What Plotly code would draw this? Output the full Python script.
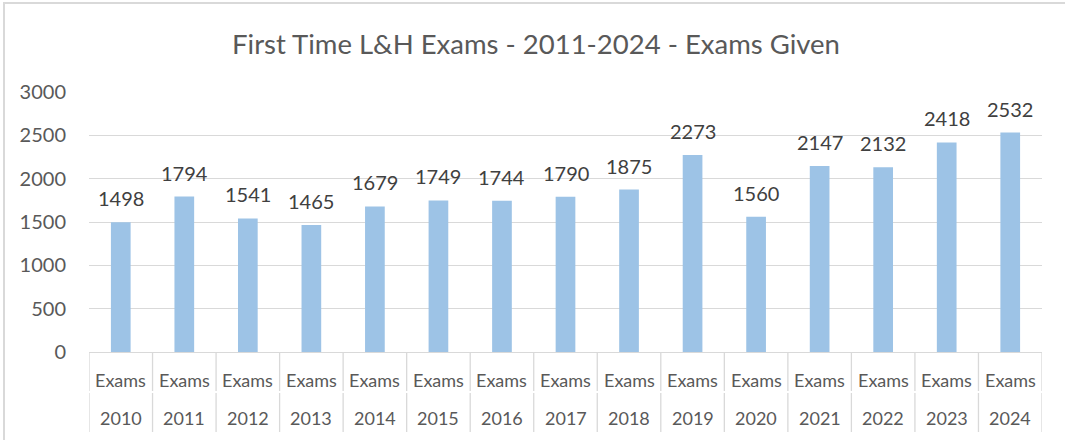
import plotly.graph_objects as go

years = ["2010", "2011", "2012", "2013", "2014", "2015", "2016", "2017",
         "2018", "2019", "2020", "2021", "2022", "2023", "2024"]
series_name = "Exams"
exams_given = [1498, 1794, 1541, 1465, 1679, 1749, 1744, 1790,
               1875, 2273, 1560, 2147, 2132, 2418, 2532]
title_text = "First Time L&H Exams - 2011-2024 - Exams Given"
y_ticks = [0, 500, 1000, 1500, 2000, 2500, 3000]

W, H = 1065, 440
L, R, T, B = 89, 23, 92, 88
pw, ph = W - L - R, H - T - B

def px_x(px):
    return (px - L) / pw

def px_y(py):
    return (H - B - py) / ph

FONT = "Lato"
BAR = "#9DC3E6"
GRID = "#D9D9D9"
TXT = "#595959"

xs = list(range(len(years)))

fig = go.Figure()
fig.add_trace(go.Bar(x=xs, y=exams_given, marker=dict(color=BAR, line=dict(width=0)),
                     width=0.31, hoverinfo="skip"))

annotations = []
for i, v in enumerate(exams_given):
    annotations.append(dict(x=i, y=v, xref="x", yref="y", text=str(v), showarrow=False,
                            yanchor="middle", yshift=24,
                            font=dict(family=FONT, size=20, color="#404040")))
    annotations.append(dict(x=i, y=px_y(380), xref="x", yref="paper", text=series_name,
                            showarrow=False, yanchor="middle",
                            font=dict(family=FONT, size=18, color=TXT)))
    annotations.append(dict(x=i, y=px_y(418), xref="x", yref="paper", text=years[i],
                            showarrow=False, yanchor="middle",
                            font=dict(family=FONT, size=18, color=TXT)))

shapes = []
for k in range(len(years) + 1):
    xk = k - 0.5
    shapes.append(dict(type="line", xref="x", yref="paper", x0=xk, x1=xk,
                       y0=px_y(352), y1=px_y(391), line=dict(color=GRID, width=1.3)))
    shapes.append(dict(type="line", xref="x", yref="paper", x0=xk, x1=xk,
                       y0=px_y(393), y1=px_y(432), line=dict(color=GRID, width=1.3)))
# chart border drawn as an open path: left side and top
shapes.append(dict(type="path", xref="paper", yref="paper",
                   path="M {:.5f},{:.5f} L {:.5f},{:.5f} L {:.5f},{:.5f}".format(
                       px_x(4), px_y(440), px_x(4), px_y(3), px_x(1065), px_y(3)),
                   line=dict(color="#D9D9D9", width=2)))

fig.update_layout(
    width=W, height=H,
    margin=dict(l=L, r=R, t=T, b=B),
    paper_bgcolor="white", plot_bgcolor="white",
    showlegend=False,
    title=dict(text=title_text, x=536 / W, xref="container", xanchor="center",
               y=1 - 44 / H, yref="container", yanchor="middle",
               font=dict(family=FONT, size=27.5, color=TXT)),
    xaxis=dict(range=[-0.5, len(years) - 0.5], showticklabels=False, showgrid=False,
               zeroline=False, showline=False, ticks=""),
    yaxis=dict(range=[0, 3000], tickvals=y_ticks, showgrid=True, gridcolor=GRID,
               gridwidth=1.3, zeroline=True, zerolinecolor=GRID, zerolinewidth=1.3,
               showline=False, ticks="", ticklabelstandoff=22,
               tickfont=dict(family=FONT, size=20, color=TXT)),
    annotations=annotations, shapes=shapes,
)

fig.write_html("out.html", config={"displayModeBar": False},
               post_script=("document.documentElement.style.overflow='hidden';"
                            "document.body.style.margin='0';"
                            "document.body.style.overflow='hidden';"))
